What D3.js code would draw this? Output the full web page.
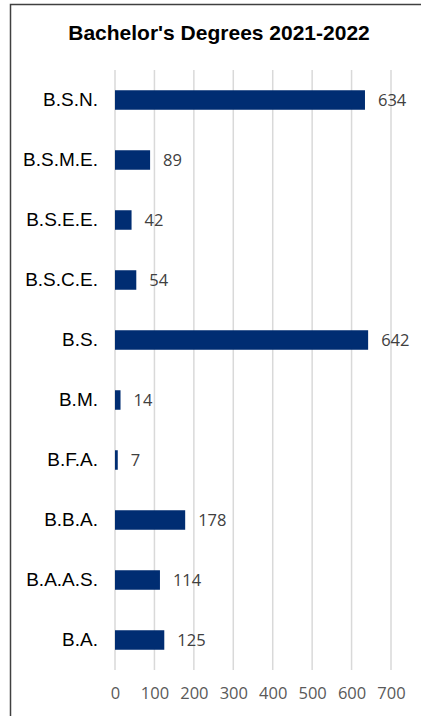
<!DOCTYPE html>
<html>
<head>
<meta charset="utf-8">
<script src="https://cdn.jsdelivr.net/npm/d3@7"></script>
<style>
	body { margin: 0; background: #ffffff; }
	svg { display: block; }
</style>
</head>
<body>
<script>
// degrees, top to bottom as shown
var degrees = ["B.S.N.", "B.S.M.E.", "B.S.E.E.", "B.S.C.E.", "B.S.", "B.M.", "B.F.A.", "B.B.A.", "B.A.A.S.", "B.A."];
var counts = [634, 89, 42, 54, 642, 14, 7, 178, 114, 125];
var ticks = [0, 100, 200, 300, 400, 500, 600, 700];

var width = 421, height = 716;

var svg = d3.select("body").append("svg")
	.attr("width", width)
	.attr("height", height);

// frame (only top and left edges show)
svg.append("path")
	.attr("d", "M10.5," + height + "V4.5H" + width)
	.attr("fill", "none")
	.attr("stroke", "#404040")
	.attr("stroke-width", 1.5);

svg.append("text")
	.attr("x", 219)
	.attr("y", 40)
	.attr("text-anchor", "middle")
	.style("font-family", "'Liberation Sans', Arial, sans-serif")
	.style("font-weight", "bold")
	.style("font-size", "21px")
	.text("Bachelor's Degrees 2021-2022");

var x = d3.scaleLinear().domain([0, 700]).range([115, 391]);
var y = d3.scaleBand().domain(degrees).range([70, 670]).paddingInner(0.675).paddingOuter(0.3375);

// gridlines
svg.append("g").selectAll("line")
	.data(ticks)
	.enter()
	.append("line")
	.attr("x1", function(d) { return x(d); })
	.attr("x2", function(d) { return x(d); })
	.attr("y1", 70)
	.attr("y2", 670)
	.attr("stroke", "#d9d9d9")
	.attr("stroke-width", 1.5);

// x axis labels
var xAxis = svg.append("g")
	.attr("transform", "translate(0,693)")
	.call(d3.axisBottom(x).tickValues(ticks).tickSize(0).tickPadding(0));
xAxis.select(".domain").remove();
xAxis.selectAll("text")
	.attr("dy", "0.35em")
	.attr("fill", "#595959")
	.style("font-family", "'Open Sans', sans-serif")
	.style("font-size", "16.5px");

// category labels
var yAxis = svg.append("g")
	.attr("transform", "translate(98,0)")
	.call(d3.axisLeft(y).tickSize(0).tickPadding(0));
yAxis.select(".domain").remove();
yAxis.selectAll("text")
	.attr("fill", "#000000")
	.style("font-family", "'Liberation Sans', Arial, sans-serif")
	.style("font-size", "19px");

var rows = degrees.map(function(d, i) { return {name: d, value: counts[i]}; });

svg.append("g").selectAll("rect")
	.data(rows)
	.enter()
	.append("rect")
	.attr("x", x(0))
	.attr("y", function(d) { return y(d.name); })
	.attr("width", function(d) { return x(d.value) - x(0); })
	.attr("height", y.bandwidth())
	.attr("fill", "#002d72");

svg.append("g").selectAll("text")
	.data(rows)
	.enter()
	.append("text")
	.attr("x", function(d) { return x(d.value) + 13; })
	.attr("y", function(d) { return y(d.name) + y.bandwidth() / 2; })
	.attr("dy", "0.35em")
	.attr("fill", "#404040")
	.style("font-family", "'Open Sans', sans-serif")
	.style("font-size", "16.5px")
	.text(function(d) { return d.value; });
</script>
</body>
</html>
